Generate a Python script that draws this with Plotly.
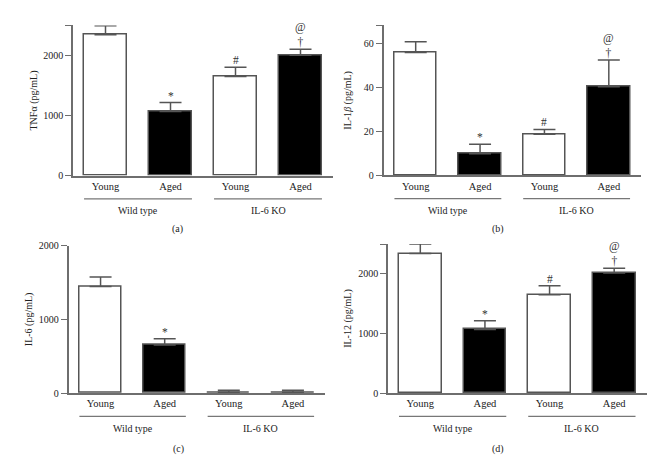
import plotly.graph_objects as go

# ---- data ----
ages = ["Young", "Aged", "Young", "Aged"]
groups = ["Wild type", "IL-6 KO"]

tnf = [2345, 1065, 1650, 2005]
tnf_err = [150, 150, 155, 97]
tnf_marks = ["", "*", "#", "@<br>†"]

il1b = [56, 9.8, 18.7, 40.3]
il1b_err = [4.9, 4.3, 2.2, 12.3]
il1b_marks = ["", "*", "#", "@<br>†"]

il6 = [1447, 651, 12, 12]
il6_err = [128, 87, 28, 28]
il6_marks = ["", "*", "", ""]

il12 = [2339, 1067, 1648, 2013]
il12_err = [163, 147, 153, 82]
il12_marks = ["", "*", "#", "@<br>†"]

panels = [
    dict(vals=tnf, err=tnf_err, marks=tnf_marks, title="TNFα (pg/mL)",
         yrange=[0, 2500], ticks=[0, 1000, 2000, 2500], labels=["0", "1000", "2000", ""],
         xdom=[73, 333], ydom=[20, 174], standoff=4, letter="(a)", lx=177, ly=229),
    dict(vals=il1b, err=il1b_err, marks=il1b_marks, title="IL-1<i>β</i> (pg/mL)",
         yrange=[0, 68.3], ticks=[0, 20, 40, 60, 68.3], labels=["0", "20", "40", "60", ""],
         xdom=[383.5, 641], ydom=[20, 173.7], standoff=10, letter="(b)", lx=498, ly=229),
    dict(vals=il6, err=il6_err, marks=il6_marks, title="IL-6 (pg/mL)",
         yrange=[0, 2000], ticks=[0, 1000, 2000], labels=["0", "1000", "2000"],
         xdom=[68.5, 325], ydom=[246, 397.3], standoff=4, letter="(c)", lx=178, ly=455),
    dict(vals=il12, err=il12_err, marks=il12_marks, title="IL-12 (pg/mL)",
         yrange=[0, 2500], ticks=[0, 1000, 2000, 2500], labels=["0", "1000", "2000", ""],
         xdom=[388, 646.5], ydom=[244.3, 397.3], standoff=5, letter="(d)", lx=498, ly=455),
]

W, H = 670, 466
FONT = "Liberation Serif"
AX = "#6e6e6e"
BAR_LINE = "#555555"
XR = [-0.5, 3.5]

fig = go.Figure()
annotations = []
shapes = []
xpos = [0, 1, 2, 3]
fills = ["white", "black", "white", "black"]


def x_to_paper(p, xv):
    x0, x1 = p["xdom"]
    return (x0 + (xv - XR[0]) / (XR[1] - XR[0]) * (x1 - x0)) / W


for i, p in enumerate(panels, start=1):
    xa = "x" if i == 1 else f"x{i}"
    ya = "y" if i == 1 else f"y{i}"
    fig.add_trace(go.Bar(
        x=xpos, y=p["vals"], xaxis=xa, yaxis=ya, width=0.66,
        marker=dict(color=fills, line=dict(color=BAR_LINE, width=1.5)),
        error_y=dict(type="data", array=p["err"], arrayminus=[0] * 4, symmetric=False,
                     color=BAR_LINE, thickness=1.5, width=11),
        showlegend=False, hoverinfo="y",
    ))
    xkey = "xaxis" if i == 1 else f"xaxis{i}"
    ykey = "yaxis" if i == 1 else f"yaxis{i}"
    fig.update_layout({
        xkey: dict(domain=[p["xdom"][0] / W, p["xdom"][1] / W], range=XR,
                   anchor=ya, showline=True, linecolor=AX, linewidth=1.5,
                   showgrid=False, zeroline=False, ticks="",
                   tickvals=xpos, ticktext=ages, fixedrange=True,
                   tickfont=dict(family=FONT, size=10.5, color="#222")),
        ykey: dict(domain=[1 - p["ydom"][1] / H, 1 - p["ydom"][0] / H], range=p["yrange"],
                   anchor=xa, showline=True, linecolor=AX, linewidth=1.5,
                   showgrid=False, zeroline=False, ticks="outside", ticklen=6,
                   tickwidth=1.2, tickcolor=AX, fixedrange=True,
                   tickvals=p["ticks"], ticktext=p["labels"],
                   tickfont=dict(family=FONT, size=10, color="#222"),
                   title=dict(text=p["title"], font=dict(family=FONT, size=10, color="#222"),
                              standoff=p["standoff"])),
    })
    # significance markers
    for xv, v, e, m in zip(xpos, p["vals"], p["err"], p["marks"]):
        if m:
            annotations.append(dict(x=xv, y=v + e, xref=xa, yref=ya, text=m,
                                    showarrow=False, yanchor="bottom", yshift=-1,
                                    font=dict(family=FONT, size=11.5, color="#333")))
    # group underlines and labels
    y_axis_px = p["ydom"][1]
    for gi, g in enumerate(groups):
        c = 0.5 + 2 * gi
        yl = 1 - (y_axis_px + 24) / H
        shapes.append(dict(type="line", xref="paper", yref="paper",
                           x0=x_to_paper(p, c - 0.83), x1=x_to_paper(p, c + 0.83), y0=yl, y1=yl,
                           line=dict(color="#777", width=1.2)))
        annotations.append(dict(x=c, y=0, xref=xa, yref=ya, text=g, showarrow=False,
                                yanchor="middle", yshift=-35,
                                font=dict(family=FONT, size=10, color="#222")))
    annotations.append(dict(x=p["lx"] / W, y=1 - p["ly"] / H, xref="paper", yref="paper",
                            text=p["letter"], showarrow=False, xanchor="center", yanchor="middle",
                            font=dict(family=FONT, size=10, color="#222")))

fig.update_layout(
    width=W, height=H, margin=dict(l=0, r=0, t=0, b=0),
    paper_bgcolor="white", plot_bgcolor="white",
    annotations=annotations, shapes=shapes, bargap=0,
    font=dict(family=FONT),
)

fig.write_html("out.html", config={"displayModeBar": False},
               post_script="document.body.style.margin='0';")
